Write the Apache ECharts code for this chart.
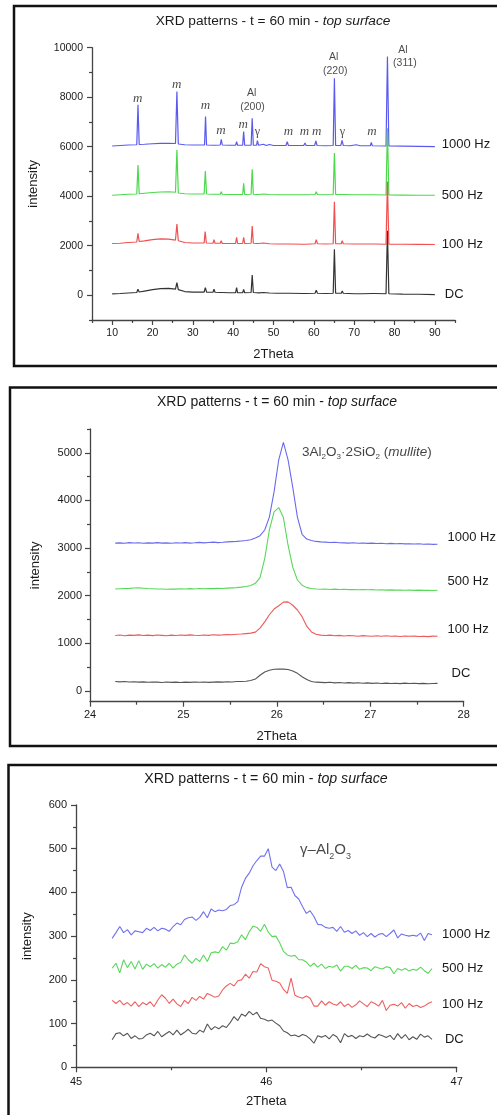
<!DOCTYPE html>
<html><head><meta charset="utf-8">
<script src="https://cdn.jsdelivr.net/npm/echarts@6/dist/echarts.min.js"></script>
<style>html,body{margin:0;padding:0;background:#fff}#c{width:497px;height:1115px}</style>
</head><body><div id="c"></div>
<script>
// ---------- Panel 1: full pattern, [2theta, intensity] ----------
const p1_1000 = [[10,6030],[12,6050],[14,6070],[16.1,6080],[16.4,7690],[16.7,6090],[18,6100],[20,6120],[22,6135],[24,6140],[25.7,6130],[26.05,8230],[26.4,6110],[28,6080],[30,6070],[32.9,6070],[33.15,7215],[33.4,6070],[35,6060],[35.25,6110],[35.5,6060],[36.8,6070],[37.05,6300],[37.3,6070],[39,6060],[40.6,6060],[40.85,6200],[41.1,6060],[42.35,6060],[42.6,6610],[42.85,6060],[44.45,6060],[44.72,7150],[45,6060],[45.8,6060],[46.0,6250],[46.3,6060],[47.5,6100],[48.2,6050],[49,6090],[50,6050],[53.1,6050],[53.4,6200],[53.7,6050],[57.5,6050],[57.8,6150],[58.1,6050],[60.2,6050],[60.5,6235],[60.8,6050],[63,6040],[64.8,6050],[65.1,8765],[65.4,6050],[66.7,6050],[67.0,6260],[67.3,6050],[69,6040],[70.5,6080],[71.5,6040],[74,6040],[74.25,6170],[74.5,6040],[77.9,6030],[78.25,9640],[78.6,6030],[82,6020],[86,6010],[90,6000]];
const p1_500 = [[10,4040],[12,4060],[14,4080],[16.1,4090],[16.4,5260],[16.7,4100],[18,4120],[20,4150],[22,4170],[24,4180],[25.7,4160],[26.05,5870],[26.4,4130],[28,4100],[30,4090],[32.8,4090],[33.1,5020],[33.4,4090],[35,4080],[35.25,4130],[35.5,4080],[36.8,4080],[37.05,4180],[37.3,4080],[39,4070],[40.6,4070],[40.85,4150],[41.1,4070],[42.35,4070],[42.6,4520],[42.85,4070],[44.45,4080],[44.72,5090],[45,4080],[45.8,4070],[46.0,4120],[46.3,4070],[47.5,4090],[49,4070],[51,4060],[53.4,4060],[53.7,4130],[54,4060],[57.4,4060],[57.7,4110],[58,4060],[60.3,4070],[60.6,4180],[60.9,4070],[63,4060],[64.8,4070],[65.1,5750],[65.4,4070],[66.8,4070],[67.05,4120],[67.3,4070],[70,4060],[72,4060],[74.4,4060],[74.7,4120],[75,4060],[77.9,4050],[78.25,6744],[78.6,4050],[82,4045],[86,4040],[90,4040]];
const p1_100 = [[10,2090],[12,2100],[14,2130],[16.1,2150],[16.4,2500],[16.7,2170],[18,2200],[20,2250],[22,2275],[24,2270],[25.7,2230],[26.05,2880],[26.4,2200],[28,2130],[30,2110],[32.8,2110],[33.05,2570],[33.35,2110],[35.0,2100],[35.25,2250],[35.5,2100],[36.8,2100],[37.05,2200],[37.3,2090],[39,2090],[40.6,2090],[40.85,2340],[41.1,2090],[42.35,2090],[42.6,2340],[42.85,2090],[44.45,2100],[44.72,2800],[45.0,2100],[45.8,2090],[46.0,2170],[46.3,2090],[47.5,2110],[49,2080],[51,2070],[53.4,2070],[53.7,2150],[54,2070],[57.4,2060],[57.7,2140],[58,2060],[60.3,2080],[60.6,2250],[60.9,2080],[63,2070],[64.8,2080],[65.1,3780],[65.4,2080],[66.8,2080],[67.05,2200],[67.3,2080],[70,2070],[72,2070],[74.4,2070],[74.7,2140],[75,2070],[77.9,2060],[78.25,4590],[78.6,2060],[82,2060],[86,2055],[90,2050]];
const p1_dc = [[10,55],[12,70],[14,90],[16.1,110],[16.4,240],[16.7,130],[18,170],[20,230],[22,270],[24,280],[25.7,250],[26.05,510],[26.4,230],[28,150],[30,130],[32.8,130],[33.1,310],[33.4,130],[35.0,120],[35.25,240],[35.5,120],[36.8,110],[37.05,180],[37.3,110],[39,100],[40.6,100],[40.85,310],[41.1,100],[42.35,100],[42.6,240],[42.85,100],[44.45,110],[44.72,820],[45.0,110],[45.8,100],[46.0,150],[46.3,95],[47.5,110],[49,90],[51,80],[53.3,80],[53.6,130],[53.9,80],[57.4,70],[57.7,110],[58,70],[60.3,80],[60.6,200],[60.9,80],[63,70],[64.8,80],[65.1,1855],[65.4,80],[66.8,80],[67.05,170],[67.3,80],[70,60],[72,60],[74.5,70],[75,70],[77.9,60],[78.25,2600],[78.6,60],[82,45],[86,40],[90,25]];
const p1_xLabels = [10,20,30,40,50,60,70,80,90];
const p1_xMinor = [5,15,25,35,45,55,65,75,85,95];
const p1_yLabels = [0,2000,4000,6000,8000,10000];
const p1_yMinor = [-1000,1000,3000,5000,7000,9000];
// peak annotations [2theta, intensity, text]
const p1_mLabels = [[16.3,7930],[26.0,8500],[33.1,7650],[37.0,6650],[42.5,6880],[53.7,6610],[57.7,6610],[60.7,6610],[74.4,6610]];
const p1_gLabels = [[46.0,6610],[67.1,6610]];
const p1_alLabels = [[44.6,8180,'Al'],[44.8,7590,'(200)'],[64.9,9640,'Al'],[65.3,9070,'(220)'],[82.1,9910,'Al'],[82.6,9370,'(311)']];

// ---------- Panel 2: mullite peak ----------
const p2_x = [24.27,24.32,24.37,24.42,24.47,24.52,24.57,24.62,24.67,24.72,
24.77,24.82,24.87,24.92,24.97,25.02,25.07,25.12,25.17,25.22,
25.27,25.32,25.37,25.42,25.47,25.52,25.57,25.62,25.67,25.72,
25.77,25.82,25.87,25.92,25.97,26.02,26.07,26.12,26.17,26.22,
26.27,26.32,26.37,26.42,26.47,26.52,26.57,26.62,26.67,26.72,
26.77,26.82,26.87,26.92,26.97,27.02,27.07,27.12,27.17,27.22,
27.27,27.32,27.37,27.42,27.47,27.52,27.57,27.62,27.67,27.72];
const p2_1000 = [3105,3110,3100,3115,3108,3112,3100,3110,3105,3115,
3105,3110,3102,3112,3108,3115,3105,3112,3120,3110,
3118,3125,3115,3122,3130,3135,3140,3150,3160,3175,
3210,3260,3380,3650,4180,4850,5220,4850,4280,3650,
3290,3190,3160,3140,3130,3125,3118,3122,3112,3110,
3105,3112,3100,3108,3098,3105,3095,3100,3092,3098,
3090,3095,3088,3092,3085,3090,3082,3086,3078,3080];
const p2_500 = [2140,2145,2150,2155,2162,2165,2158,2150,2145,2140,
2142,2135,2140,2138,2145,2140,2148,2142,2150,2145,
2152,2148,2155,2152,2160,2165,2170,2180,2195,2215,
2260,2380,2780,3380,3760,3850,3640,3060,2600,2330,
2220,2170,2150,2140,2135,2140,2132,2138,2130,2135,
2128,2132,2125,2130,2125,2128,2120,2125,2118,2122,
2118,2120,2115,2120,2112,2118,2112,2116,2110,2115];
const p2_100 = [1165,1175,1160,1172,1168,1178,1165,1172,1162,1175,
1168,1160,1172,1165,1175,1168,1178,1170,1165,1175,
1168,1180,1172,1178,1185,1180,1190,1195,1205,1215,
1235,1320,1450,1600,1720,1790,1865,1870,1800,1700,
1560,1360,1240,1190,1172,1165,1172,1160,1168,1155,
1165,1158,1150,1162,1155,1148,1158,1150,1160,1148,
1155,1145,1155,1148,1152,1145,1150,1142,1152,1150];
const p2_dc = [200,192,198,188,195,185,192,182,190,185,
178,188,180,186,178,185,180,190,182,188,
180,186,192,185,195,190,198,200,205,220,
250,330,400,435,455,462,458,452,420,370,
300,240,200,185,180,175,182,170,178,168,
175,165,172,162,170,160,168,158,165,158,
162,155,165,158,162,155,160,152,158,160];
const p2_xLabels = [24,25,26,27,28];
const p2_xMinor = [24.5,25.5,26.5,27.5];
const p2_yLabels = [0,1000,2000,3000,4000,5000];
const p2_yMinor = [500,1500,2500,3500,4500,5500];

// ---------- Panel 3: gamma-Al2O3 peak ----------
const p3_x = [45.19,45.21,45.23,45.25,45.27,45.29,45.31,45.33,45.35,45.37,
45.39,45.41,45.43,45.45,45.47,45.49,45.51,45.53,45.55,45.57,
45.59,45.61,45.63,45.65,45.67,45.69,45.71,45.73,45.75,45.77,
45.79,45.81,45.83,45.85,45.87,45.89,45.91,45.93,45.95,45.97,
45.99,46.01,46.03,46.05,46.07,46.09,46.11,46.13,46.15,46.17,
46.19,46.21,46.23,46.25,46.27,46.29,46.31,46.33,46.35,46.37,
46.39,46.41,46.43,46.45,46.47,46.49,46.51,46.53,46.55,46.57,
46.59,46.61,46.63,46.65,46.67,46.69,46.71,46.73,46.75,46.77,
46.79,46.81,46.83,46.85,46.87];
const p3_1000 = [295,308,322,308,315,303,312,310,308,318,
313,320,312,318,316,311,322,330,326,338,
342,344,336,343,356,342,362,356,360,358,
361,370,372,379,412,432,444,461,473,483,
483,500,458,450,465,448,411,412,393,385,
368,352,358,345,327,326,320,318,320,311,
322,309,313,306,312,302,308,299,306,298,
304,306,299,306,314,296,305,302,300,302,
300,307,290,306,303];
const p3_500 = [227,238,216,246,228,242,225,244,224,236,
230,237,227,235,229,238,227,236,240,257,
246,238,249,242,257,242,262,264,262,276,
268,284,283,287,303,292,310,323,320,311,
327,309,299,300,285,265,257,254,256,246,
246,241,231,238,229,236,226,231,229,234,
220,231,231,226,233,224,228,227,221,230,
227,225,230,228,214,226,222,226,220,224,
222,229,221,215,226];
const p3_100 = [153,146,153,143,148,140,150,139,148,143,
150,139,154,166,158,146,156,145,139,153,
146,160,153,162,156,169,165,160,163,177,
186,192,186,198,200,213,204,219,218,237,
230,227,199,197,193,178,169,204,165,161,
158,163,158,140,140,152,142,150,145,142,
150,139,145,137,143,152,145,139,150,146,
140,153,130,142,144,140,148,135,146,139,
142,137,140,146,150];
const p3_dc = [63,77,79,72,78,66,72,65,66,74,
78,72,82,70,76,82,74,85,74,80,
87,78,76,85,80,99,86,93,88,95,
91,102,116,107,122,117,128,120,126,112,
110,106,108,101,95,83,79,72,74,70,
75,72,65,55,72,69,73,65,75,70,
56,77,70,73,66,72,70,76,70,67,
75,72,68,73,63,77,66,75,63,70,
64,76,69,72,64];
const p3_xLabels = [45,46,47];
const p3_xMinor = [45.5,46.5];
const p3_yLabels = [0,100,200,300,400,500,600];
const p3_yMinor = [50,150,250,350,450,550];

// ---------- chart ----------
const SANS = '"Liberation Sans", Arial, sans-serif';
const SERIF = '"Liberation Serif", "Times New Roman", serif';
const AX = '#444';
const TXT = '#1a1a1a';
const chart = echarts.init(document.getElementById('c'), null, {renderer: 'canvas'});
const plain = v => String(v);

function xPair(gi, min, max, majors, minors, fs, margin, gap) {
  return [
    {type: 'value', gridIndex: gi, min: min, max: max, position: 'bottom',
     axisLine: {show: true, onZero: false, lineStyle: {color: AX, width: 1.3}},
     axisTick: {show: true, length: 5, customValues: majors, lineStyle: {color: AX, width: 1.2}},
     axisLabel: {customValues: majors, formatter: plain, fontSize: fs, color: TXT, margin: margin, fontFamily: SANS},
     splitLine: {show: false},
     name: '2Theta', nameLocation: 'middle', nameGap: gap,
     nameTextStyle: {fontSize: 13, color: TXT, fontFamily: SANS}},
    {type: 'value', gridIndex: gi, min: min, max: max, position: 'bottom',
     axisLine: {show: false, onZero: false},
     axisTick: {show: true, length: 3, customValues: minors, lineStyle: {color: AX, width: 1.2}},
     axisLabel: {show: false}, splitLine: {show: false}}
  ];
}
function yPair(gi, min, max, majors, minors, fs, margin, gap) {
  return [
    {type: 'value', gridIndex: gi, min: min, max: max, position: 'left',
     axisLine: {show: true, onZero: false, lineStyle: {color: AX, width: 1.3}},
     axisTick: {show: true, length: 5, customValues: majors, lineStyle: {color: AX, width: 1.2}},
     axisLabel: {customValues: majors, formatter: plain, fontSize: fs, color: TXT, margin: margin, fontFamily: SANS},
     splitLine: {show: false},
     name: 'intensity', nameLocation: 'middle', nameGap: gap,
     nameTextStyle: {fontSize: 13, color: TXT, fontFamily: SANS}},
    {type: 'value', gridIndex: gi, min: min, max: max, position: 'left',
     axisLine: {show: false, onZero: false},
     axisTick: {show: true, length: 3, customValues: minors, lineStyle: {color: AX, width: 1.2}},
     axisLabel: {show: false}, splitLine: {show: false}}
  ];
}

function lineSeries(name, data, color, xi, yi, dist, off, w) {
  return {
    type: 'line', name: name, data: data, xAxisIndex: xi, yAxisIndex: yi,
    showSymbol: false, symbol: 'none', animation: false, silent: true,
    lineStyle: {color: color, width: w || 1.1},
    endLabel: {show: true, formatter: name, color: TXT, fontSize: 13, fontFamily: SANS,
               distance: dist, offset: off}
  };
}
function zip(xs, ys) { return xs.map((x, i) => [x, ys[i]]); }

const C1 = {b: '#5a5af0', g: '#4cd94c', r: '#f05050', k: '#333333'};
const C2 = {b: '#6a6aee', g: '#58d858', r: '#ee5a5a', k: '#555555'};
const C3 = {b: '#7070f0', g: '#5cd65c', r: '#ef6060', k: '#555555'};

const annot1 = [];
p1_mLabels.forEach(p => annot1.push({value: [p[0], p[1]], label: {formatter: 'm', fontFamily: SERIF, fontStyle: 'italic', fontSize: 13}}));
p1_gLabels.forEach(p => annot1.push({value: [p[0], p[1]], label: {formatter: 'γ', fontFamily: SERIF, fontSize: 12}}));
p1_alLabels.forEach(p => annot1.push({value: [p[0], p[1]], label: {formatter: p[2], fontFamily: SANS, fontSize: 10.5}}));

function titleRich(fs) {
  return {
    a: {fontSize: fs, color: TXT, fontFamily: SANS, fontWeight: 'normal'},
    b: {fontSize: fs, color: TXT, fontFamily: SANS, fontStyle: 'italic', fontWeight: 'normal'}
  };
}
const titleText = '{a|XRD patterns - t = 60 min - }{b|top surface}';

const option = {
  backgroundColor: '#fff',
  animation: false,
  title: [
    {text: titleText, left: 273, top: 14, textAlign: 'center', padding: 0, textStyle: {fontWeight: 'normal', rich: titleRich(13.7)}},
    {text: titleText, left: 277, top: 395, textAlign: 'center', padding: 0, textStyle: {fontWeight: 'normal', rich: titleRich(14)}},
    {text: titleText, left: 266, top: 772, textAlign: 'center', padding: 0, textStyle: {fontWeight: 'normal', rich: titleRich(14.2)}}
  ],
  grid: [
    {left: 92, top: 47.7, width: 363, height: 272.3},
    {left: 90, top: 429, width: 373.7, height: 272.7},
    {left: 76, top: 805, width: 380.7, height: 262.3}
  ],
  xAxis: [].concat(
    xPair(0, 5, 95, p1_xLabels, p1_xMinor, 10.5, 8, 28),
    xPair(1, 24, 28, p2_xLabels, p2_xMinor, 11, 8, 28),
    xPair(2, 45, 47, p3_xLabels, p3_xMinor, 11, 9, 28)
  ),
  yAxis: [].concat(
    yPair(0, -1000, 10000, p1_yLabels, p1_yMinor, 10.5, 9, 52),
    yPair(1, -225, 5500, p2_yLabels, p2_yMinor, 11, 8, 48),
    yPair(2, 0, 600, p3_yLabels, p3_yMinor, 11, 9, 42)
  ),
  series: [
    lineSeries('DC', p1_dc, C1.k, 0, 0, 10, [0, 0], 1.2),
    lineSeries('1000 Hz', p1_1000, C1.b, 0, 0, 7, [0, -2], 1.2),
    lineSeries('500 Hz', p1_500, C1.g, 0, 0, 7, [0, 0], 1.2),
    lineSeries('100 Hz', p1_100, C1.r, 0, 0, 7, [0, 0], 1.2),
    {type: 'scatter', xAxisIndex: 0, yAxisIndex: 0, symbolSize: 0, silent: true, animation: false,
     label: {show: true, position: 'inside', color: TXT}, data: annot1},

    lineSeries('1000 Hz', zip(p2_x, p2_1000), C2.b, 2, 2, 10, [0, -7]),
    lineSeries('500 Hz', zip(p2_x, p2_500), C2.g, 2, 2, 10, [0, -9]),
    lineSeries('100 Hz', zip(p2_x, p2_100), C2.r, 2, 2, 10, [0, -7]),
    lineSeries('DC', zip(p2_x, p2_dc), C2.k, 2, 2, 14, [0, -10]),
    {type: 'scatter', xAxisIndex: 2, yAxisIndex: 2, symbolSize: 0, silent: true, animation: false,
     label: {show: true, position: 'right', distance: 0, color: '#111',
       formatter: '{n|3Al}{s|2}{n|O}{s|3}{n|·2SiO}{s|2}{n| (}{i|mullite}{n|)}',
       rich: {
         n: {fontSize: 13.5, fontFamily: SANS, color: '#111', lineHeight: 18},
         s: {fontSize: 8, fontFamily: SANS, color: '#111', lineHeight: 18, padding: [10, 0, 0, 0]},
         i: {fontSize: 13.5, fontFamily: SANS, color: '#111', fontStyle: 'italic', lineHeight: 18}
       }},
     data: [[26.27, 5013]]},

    lineSeries('1000 Hz', zip(p3_x, p3_1000), C3.b, 4, 4, 10, [0, 0]),
    lineSeries('500 Hz', zip(p3_x, p3_500), C3.g, 4, 4, 10, [0, 0]),
    lineSeries('100 Hz', zip(p3_x, p3_100), C3.r, 4, 4, 10, [0, 3]),
    lineSeries('DC', zip(p3_x, p3_dc), C3.k, 4, 4, 13, [0, 0]),
    {type: 'scatter', xAxisIndex: 4, yAxisIndex: 4, symbolSize: 0, silent: true, animation: false,
     label: {show: true, position: 'right', distance: 0, color: TXT,
       formatter: '{n|γ–Al}{s|2}{n|O}{s|3}',
       rich: {
         n: {fontSize: 15, fontFamily: SANS, color: TXT, lineHeight: 20},
         s: {fontSize: 9, fontFamily: SANS, color: TXT, lineHeight: 20, padding: [12, 0, 0, 0]}
       }},
     data: [[46.177, 497]]}
  ],
  graphic: [
    {type: 'rect', silent: true, z: 100, shape: {x: 14, y: 6, width: 520, height: 360}, style: {fill: 'none', stroke: '#111', lineWidth: 2.5}},
    {type: 'rect', silent: true, z: 100, shape: {x: 10, y: 387.5, width: 520, height: 358.5}, style: {fill: 'none', stroke: '#111', lineWidth: 2.5}},
    {type: 'rect', silent: true, z: 100, shape: {x: 8.5, y: 765, width: 520, height: 400}, style: {fill: 'none', stroke: '#111', lineWidth: 2.5}}
  ]
};
chart.setOption(option);
</script></body></html>
